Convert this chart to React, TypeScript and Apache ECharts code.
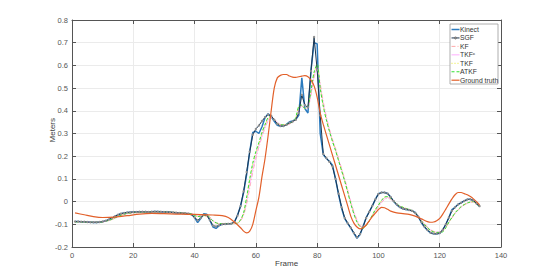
import React, { useEffect, useRef } from "react";
import * as echarts from "echarts";

const kinect: number[] = [
  -0.088, -0.088, -0.089, -0.089, -0.09, -0.091, -0.092, -0.092, -0.091, -0.089,
  -0.085, -0.08, -0.073, -0.066, -0.058, -0.053, -0.05, -0.048, -0.047, -0.046,
  -0.046, -0.045, -0.045, -0.046, -0.046, -0.045, -0.044, -0.044, -0.045, -0.046,
  -0.045, -0.046, -0.048, -0.05, -0.05, -0.051, -0.052, -0.052, -0.055, -0.07,
  -0.092, -0.075, -0.053, -0.056, -0.082, -0.112, -0.118, -0.106, -0.1, -0.1,
  -0.098, -0.098, -0.09, -0.06, -0.02, 0.04, 0.12, 0.22, 0.305, 0.31,
  0.3, 0.33, 0.37, 0.387, 0.375, 0.354, 0.336, 0.332, 0.333, 0.34,
  0.352, 0.355, 0.362, 0.38, 0.545, 0.41, 0.39, 0.58, 0.7, 0.695,
  0.3, 0.207, 0.19, 0.178, 0.16, 0.1, 0.03, -0.03, -0.075, -0.097,
  -0.117, -0.14, -0.162, -0.145, -0.11, -0.07, -0.045, -0.02, 0.01, 0.035,
  0.04, 0.04, 0.036, 0.02, 0.0, -0.015, -0.025, -0.032, -0.035, -0.037,
  -0.04, -0.048, -0.065, -0.092, -0.112, -0.126, -0.138, -0.142, -0.143, -0.14,
  -0.125, -0.1, -0.07, -0.035, -0.025, -0.012, -0.005, 0.003, 0.01, 0.01,
  0.005, -0.008, -0.022,
];

const sgf: number[] = [
  -0.088, -0.088, -0.089, -0.089, -0.09, -0.091, -0.091, -0.091, -0.09, -0.088,
  -0.084, -0.079, -0.072, -0.065, -0.058, -0.053, -0.05, -0.048, -0.047, -0.046,
  -0.046, -0.045, -0.045, -0.045, -0.046, -0.045, -0.044, -0.045, -0.045, -0.046,
  -0.046, -0.047, -0.048, -0.049, -0.05, -0.051, -0.052, -0.054, -0.058, -0.07,
  -0.082, -0.072, -0.058, -0.06, -0.082, -0.105, -0.11, -0.104, -0.1, -0.099,
  -0.098, -0.097, -0.09, -0.062, -0.02, 0.045, 0.13, 0.22, 0.295, 0.32,
  0.335, 0.355, 0.372, 0.383, 0.378, 0.36, 0.342, 0.333, 0.333, 0.338,
  0.347, 0.353, 0.36, 0.39, 0.47, 0.425, 0.415, 0.575, 0.725, 0.58,
  0.38, 0.21, 0.192, 0.175, 0.155, 0.1, 0.035, -0.025, -0.072, -0.095,
  -0.115, -0.138, -0.157, -0.143, -0.11, -0.072, -0.045, -0.018, 0.01, 0.033,
  0.04, 0.04, 0.035, 0.02, 0.002, -0.013, -0.024, -0.031, -0.034, -0.037,
  -0.041, -0.05, -0.067, -0.09, -0.11, -0.125, -0.137, -0.141, -0.142, -0.138,
  -0.124, -0.1, -0.07, -0.04, -0.025, -0.013, -0.005, 0.003, 0.009, 0.01,
  0.005, -0.008, -0.02,
];

const kf: [number, number][] = [
  [1, -0.088], [4, -0.089], [7, -0.091], [10, -0.089], [12, -0.084], [14, -0.074],
  [16, -0.062], [18, -0.054], [21, -0.049], [25, -0.047], [29, -0.046], [33, -0.047],
  [37, -0.05], [39, -0.053], [41, -0.063], [43, -0.062], [45, -0.07], [47, -0.093],
  [49, -0.098], [52, -0.097], [54, -0.096], [55, -0.085], [56, -0.06], [57, -0.01],
  [58, 0.06], [59, 0.13], [60, 0.19], [61, 0.24], [62, 0.285], [63, 0.325],
  [64, 0.355], [65, 0.37], [66, 0.365], [67, 0.35], [68, 0.34], [70, 0.338],
  [72, 0.348], [73, 0.36], [74, 0.4], [75, 0.42], [76, 0.41], [77, 0.415],
  [78, 0.47], [79, 0.545], [80, 0.585], [81, 0.52], [82, 0.44], [83, 0.375],
  [84, 0.32], [85, 0.275], [86, 0.235], [87, 0.19], [88, 0.145], [89, 0.1],
  [90, 0.05], [91, 0.0], [92, -0.045], [93, -0.08], [94, -0.105], [95, -0.112],
  [96, -0.103], [97, -0.085], [98, -0.065], [99, -0.042], [100, -0.022], [101, -0.005],
  [102, 0.01], [103, 0.015], [104, 0.01], [105, 0.0], [106, -0.012], [107, -0.022],
  [108, -0.028], [109, -0.032], [110, -0.036], [111, -0.041], [112, -0.05], [113, -0.062],
  [114, -0.08], [115, -0.097], [116, -0.112], [117, -0.124], [118, -0.131], [119, -0.134],
  [120, -0.133], [121, -0.128], [122, -0.113], [123, -0.092], [124, -0.072], [125, -0.053],
  [126, -0.038], [127, -0.025], [128, -0.015], [129, -0.008], [130, -0.003], [131, -0.002],
  [132, -0.01], [133, -0.02],
];

const tkfc: [number, number][] = [
  [1, -0.088], [4, -0.089], [7, -0.091], [10, -0.089], [12, -0.083], [14, -0.073],
  [16, -0.061], [18, -0.053], [21, -0.048], [25, -0.046], [29, -0.046], [33, -0.047],
  [37, -0.05], [39, -0.054], [41, -0.064], [43, -0.061], [45, -0.072], [47, -0.094],
  [49, -0.098], [52, -0.097], [54, -0.095], [55, -0.083], [56, -0.055], [57, 0.0],
  [58, 0.075], [59, 0.145], [60, 0.2], [61, 0.248], [62, 0.292], [63, 0.33],
  [64, 0.36], [65, 0.372], [66, 0.363], [67, 0.348], [68, 0.34], [70, 0.339],
  [72, 0.35], [73, 0.362], [74, 0.405], [75, 0.422], [76, 0.41], [77, 0.416],
  [78, 0.475], [79, 0.553], [80, 0.59], [81, 0.512], [82, 0.432], [83, 0.37],
  [84, 0.316], [85, 0.27], [86, 0.23], [87, 0.186], [88, 0.14], [89, 0.095],
  [90, 0.046], [91, -0.004], [92, -0.048], [93, -0.083], [94, -0.107], [95, -0.114],
  [96, -0.104], [97, -0.085], [98, -0.063], [99, -0.04], [100, -0.02], [101, -0.002],
  [102, 0.013], [103, 0.018], [104, 0.012], [105, 0.0], [106, -0.012], [107, -0.022],
  [108, -0.027], [109, -0.031], [110, -0.035], [111, -0.04], [112, -0.05], [113, -0.063],
  [114, -0.082], [115, -0.099], [116, -0.113], [117, -0.125], [118, -0.132], [119, -0.135],
  [120, -0.134], [121, -0.13], [122, -0.114], [123, -0.091], [124, -0.071], [125, -0.052],
  [126, -0.037], [127, -0.024], [128, -0.014], [129, -0.007], [130, -0.003], [131, -0.001],
  [132, -0.01], [133, -0.021],
];

const tkf: [number, number][] = [
  [1, -0.089], [4, -0.09], [7, -0.091], [10, -0.09], [12, -0.083], [14, -0.072],
  [16, -0.06], [18, -0.052], [21, -0.048], [25, -0.046], [29, -0.045], [33, -0.047],
  [37, -0.051], [39, -0.054], [41, -0.066], [43, -0.062], [45, -0.075], [47, -0.095],
  [49, -0.097], [52, -0.097], [54, -0.095], [55, -0.081], [56, -0.052], [57, 0.015],
  [58, 0.095], [59, 0.165], [60, 0.215], [61, 0.257], [62, 0.3], [63, 0.337],
  [64, 0.366], [65, 0.374], [66, 0.36], [67, 0.345], [68, 0.338], [70, 0.34],
  [72, 0.352], [73, 0.368], [74, 0.418], [75, 0.424], [76, 0.41], [77, 0.42],
  [78, 0.488], [79, 0.566], [80, 0.6], [81, 0.503], [82, 0.422], [83, 0.362],
  [84, 0.311], [85, 0.266], [86, 0.226], [87, 0.181], [88, 0.136], [89, 0.091],
  [90, 0.041], [91, -0.009], [92, -0.054], [93, -0.089], [94, -0.109], [95, -0.117],
  [96, -0.105], [97, -0.085], [98, -0.061], [99, -0.036], [100, -0.016], [101, 0.004],
  [102, 0.019], [103, 0.021], [104, 0.014], [105, 0.002], [106, -0.01], [107, -0.02],
  [108, -0.025], [109, -0.03], [110, -0.035], [111, -0.04], [112, -0.05], [113, -0.065],
  [114, -0.085], [115, -0.1], [116, -0.115], [117, -0.127], [118, -0.133], [119, -0.136],
  [120, -0.135], [121, -0.132], [122, -0.115], [123, -0.09], [124, -0.07], [125, -0.05],
  [126, -0.035], [127, -0.022], [128, -0.013], [129, -0.006], [130, -0.002], [131, 0.0],
  [132, -0.01], [133, -0.022],
];

const atkf: [number, number][] = [
  [1, -0.089], [3, -0.09], [6, -0.091], [9, -0.091], [12, -0.083], [14, -0.072],
  [16, -0.06], [18, -0.052], [21, -0.048], [25, -0.046], [29, -0.045], [33, -0.047],
  [37, -0.051], [39, -0.054], [41, -0.066], [43, -0.062], [44, -0.06], [46, -0.085],
  [48, -0.097], [51, -0.097], [54, -0.095], [55, -0.08], [56, -0.05], [57, 0.02],
  [58, 0.1], [59, 0.17], [60, 0.22], [61, 0.26], [62, 0.305], [63, 0.34],
  [64, 0.37], [65, 0.375], [66, 0.36], [67, 0.345], [68, 0.338], [70, 0.34],
  [72, 0.352], [73, 0.37], [74, 0.42], [75, 0.425], [76, 0.41], [77, 0.42],
  [78, 0.49], [79, 0.57], [80, 0.605], [81, 0.5], [82, 0.42], [83, 0.36],
  [84, 0.31], [85, 0.265], [86, 0.225], [87, 0.18], [88, 0.135], [89, 0.09],
  [90, 0.04], [91, -0.01], [92, -0.055], [93, -0.09], [94, -0.11], [95, -0.118],
  [96, -0.105], [97, -0.085], [98, -0.06], [99, -0.035], [100, -0.015], [101, 0.005],
  [102, 0.02], [103, 0.022], [104, 0.015], [105, 0.002], [106, -0.01], [107, -0.02],
  [108, -0.025], [109, -0.03], [110, -0.035], [111, -0.04], [112, -0.05], [113, -0.065],
  [114, -0.085], [115, -0.1], [116, -0.115], [117, -0.127], [118, -0.133], [119, -0.136],
  [120, -0.135], [121, -0.133], [122, -0.115], [123, -0.09], [124, -0.07], [125, -0.05],
  [126, -0.035], [127, -0.022], [128, -0.013], [129, -0.006], [130, -0.002], [131, 0.0],
  [132, -0.01], [133, -0.022],
];

const groundTruth: [number, number][] = [
  [1, -0.05], [4, -0.058], [7, -0.066], [10, -0.07], [14, -0.068], [18, -0.062],
  [22, -0.055], [26, -0.052], [30, -0.053], [34, -0.055], [38, -0.056], [42, -0.057],
  [46, -0.059], [49, -0.062], [51, -0.07], [53, -0.09], [55, -0.115], [56, -0.13],
  [57, -0.138], [58, -0.13], [59, -0.1], [60, -0.04], [61, 0.02], [62, 0.11],
  [63, 0.19], [64, 0.29], [65, 0.4], [66, 0.5], [67, 0.545], [68, 0.556],
  [69, 0.56], [70, 0.56], [71, 0.553], [72, 0.548], [73, 0.547], [74, 0.55],
  [75, 0.553], [76, 0.555], [77, 0.55], [78, 0.535], [79, 0.51], [80, 0.46],
  [81, 0.39], [82, 0.34], [84, 0.25], [86, 0.16], [88, 0.07], [90, -0.02],
  [91, -0.065], [92, -0.095], [93, -0.112], [94, -0.12], [95, -0.115], [96, -0.103],
  [97, -0.085], [98, -0.066], [99, -0.051], [100, -0.035], [101, -0.025], [102, -0.027],
  [103, -0.034], [104, -0.042], [106, -0.05], [108, -0.053], [110, -0.056], [112, -0.064],
  [114, -0.076], [116, -0.088], [117, -0.091], [118, -0.09], [119, -0.084], [120, -0.074],
  [121, -0.055], [122, -0.033], [123, -0.01], [124, 0.012], [125, 0.03], [126, 0.04],
  [127, 0.04], [128, 0.035], [129, 0.03], [130, 0.022], [131, 0.012], [132, 0.0],
  [133, -0.015],
];

const seriesNames = ["Kinect", "SGF", "KF", "TKFᶜ", "TKF", "ATKF", "Ground truth"];
const seriesColors = ["#2b7bbf", "#1b3550", "#ff9f9f", "#ffa6ff", "#e8e81a", "#33e033", "#e2602a"];
const seriesDash: any[] = [null, null, [4, 2, 1, 2], null, [1, 2], [3, 2], null];
const seriesWidth = [1.5, 1, 0.8, 0.8, 0.9, 1, 1.2];

const FONT = "Liberation Sans, Arial, sans-serif";
const AXIS = "#555555";

export default function App() {
  const ref = useRef<HTMLDivElement>(null);
  useEffect(() => {
    if (!ref.current) return;
    const chart = echarts.init(ref.current, null, { renderer: "svg" });
    const idx = (arr: number[]) => arr.map((v, i) => [i + 1, v]);
    const styleOf = (i: number) => ({
      color: seriesColors[i],
      width: seriesWidth[i],
      type: seriesDash[i] || "solid",
    });
    const baseLine = (i: number, data: any) => ({
      name: seriesNames[i],
      type: "line",
      data,
      showSymbol: false,
      symbol: "none",
      smooth: 0.3,
      lineStyle: styleOf(i),
      itemStyle: { color: seriesColors[i] },
      z: 2,
    });

    // manual legend
    const lgX = 450, lgY = 24, lgW = 48, lgH = 60, step = 8.45, first = 29.5;
    const legendEls: any[] = [
      {
        type: "rect",
        shape: { x: lgX, y: lgY, width: lgW, height: lgH },
        style: { fill: "#ffffff", stroke: "#9a9a9a", lineWidth: 0.8 },
        z: 100,
      },
    ];
    seriesNames.forEach((name, i) => {
      const y = first + i * step;
      legendEls.push({
        type: "line",
        shape: { x1: lgX + 1.5, y1: y, x2: lgX + 9.5, y2: y },
        style: {
          stroke: seriesColors[i],
          lineWidth: Math.max(seriesWidth[i], 0.9),
          lineDash: seriesDash[i] || null,
        },
        z: 101,
      });
      if (i === 1) {
        legendEls.push({
          type: "circle",
          shape: { cx: lgX + 5.5, cy: y, r: 1.2 },
          style: { fill: "#8a8a8a", stroke: "#555", lineWidth: 0.4 },
          z: 102,
        });
      }
      legendEls.push({
        type: "text",
        x: lgX + 10,
        y: y,
        style: {
          text: name,
          fontSize: 6.8,
          fill: "#333333",
          fontFamily: FONT,
          verticalAlign: "middle",
          align: "left",
        },
        z: 101,
      });
    });

    chart.setOption({
      animation: false,
      backgroundColor: "#ffffff",
      textStyle: { fontFamily: FONT },
      grid: { left: 72, right: 53, top: 20, bottom: 31, containLabel: false },
      xAxis: [
        {
          type: "value",
          min: 0,
          max: 140,
          interval: 20,
          axisLine: { show: true, onZero: false, lineStyle: { color: AXIS, width: 1 } },
          axisTick: { show: true, inside: true, length: 4, lineStyle: { color: AXIS } },
          axisLabel: { fontSize: 7.5, color: AXIS, margin: 4, fontFamily: FONT },
          splitLine: { show: true, lineStyle: { color: "#ebebeb", width: 1 } },
        },
        {
          type: "value",
          position: "top",
          min: 0,
          max: 140,
          interval: 20,
          axisLine: { show: true, onZero: false, lineStyle: { color: AXIS, width: 1 } },
          axisTick: { show: true, inside: true, length: 4, lineStyle: { color: AXIS } },
          axisLabel: { show: false },
          splitLine: { show: false },
        },
      ],
      yAxis: [
        {
          type: "value",
          min: -0.2,
          max: 0.8,
          interval: 0.1,
          axisLine: { show: true, onZero: false, lineStyle: { color: AXIS, width: 1 } },
          axisTick: { show: true, inside: true, length: 4, lineStyle: { color: AXIS } },
          axisLabel: {
            fontSize: 7.5,
            color: AXIS,
            margin: 4,
            fontFamily: FONT,
            formatter: (v: number) => String(Math.round(v * 10) / 10),
          },
          splitLine: { show: true, lineStyle: { color: "#ebebeb", width: 1 } },
        },
        {
          type: "value",
          position: "right",
          min: -0.2,
          max: 0.8,
          interval: 0.1,
          axisLine: { show: true, onZero: false, lineStyle: { color: AXIS, width: 1 } },
          axisTick: { show: true, inside: true, length: 4, lineStyle: { color: AXIS } },
          axisLabel: { show: false },
          splitLine: { show: false },
        },
      ],
      graphic: [
        {
          type: "text",
          left: 48,
          top: 118,
          rotation: Math.PI / 2,
          style: { text: "Meters", fontSize: 8, fill: "#404040", fontFamily: FONT },
        },
        {
          type: "text",
          left: 275,
          top: 259,
          style: { text: "Frame", fontSize: 8, fill: "#404040", fontFamily: FONT },
        },
        ...legendEls,
      ],
      series: [
        {
          name: seriesNames[0],
          type: "line",
          data: idx(kinect),
          showSymbol: false,
          symbol: "none",
          lineStyle: styleOf(0),
          itemStyle: { color: seriesColors[0] },
          z: 2,
        },
        {
          name: seriesNames[1],
          type: "line",
          data: idx(sgf),
          symbol: "circle",
          symbolSize: 2.4,
          showSymbol: true,
          lineStyle: styleOf(1),
          itemStyle: { color: "#8f8f8f", borderWidth: 0 },
          z: 3,
        },
        baseLine(2, kf),
        baseLine(3, tkfc),
        baseLine(4, tkf),
        baseLine(5, atkf),
        {
          name: seriesNames[6],
          type: "line",
          data: groundTruth,
          showSymbol: false,
          symbol: "none",
          smooth: 0.3,
          lineStyle: styleOf(6),
          itemStyle: { color: seriesColors[6] },
          z: 4,
        },
      ],
    });
    return () => chart.dispose();
  }, []);
  return <div ref={ref} style={{ width: 554, height: 278, position: "absolute", left: 0, top: 0 }} />;
}
